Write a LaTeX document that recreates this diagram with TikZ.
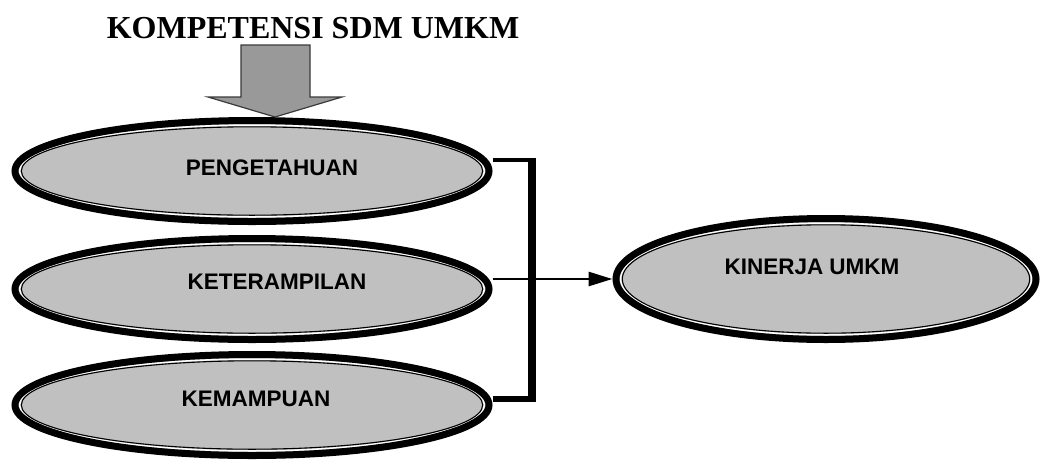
\documentclass[tikz,border=0pt]{standalone}
\usepackage{fontspec}
\setmainfont{Liberation Serif}
\newfontfamily\labelfont{Liberation Sans}
\usetikzlibrary{shapes.geometric,arrows.meta,backgrounds,calc}
\definecolor{ovalfill}{HTML}{C0C0C0}
\definecolor{arrowfill}{HTML}{999999}
\definecolor{arrowline}{HTML}{3A3A3A}

\tikzset{
  oval/.style={ellipse, draw=black, line width=7pt, fill=ovalfill, inner sep=0pt,
    path picture={
      \draw[white, line width=1.5pt]
        let \p1=(path picture bounding box.north east),
            \p2=(path picture bounding box.center) in
        (\p2) ellipse [x radius={\x1-\x2-4.6pt}, y radius={\y1-\y2-4.6pt}];
      \draw[black, line width=1.1pt]
        let \p1=(path picture bounding box.north east),
            \p2=(path picture bounding box.center) in
        (\p2) ellipse [x radius={\x1-\x2-6.3pt}, y radius={\y1-\y2-6.3pt}];
    }},
  smalloval/.style={oval, minimum width=474pt, minimum height=101pt},
  lbl/.style={font=\labelfont\bfseries\fontsize{22.5}{27}\selectfont},
  heading/.style={font=\bfseries\fontsize{32}{38}\selectfont, anchor=base},
  blockarrow/.style={fill=arrowfill, draw=arrowline, line width=1.2pt, line join=miter},
}

\begin{document}
\begin{tikzpicture}[x=1pt, y=-1pt]
  \useasboundingbox (0,0) rectangle (1042,459);

  % heading
  \node[heading] (title) at (313,38) {KOMPETENSI SDM UMKM};

  % competence ovals
  \node[smalloval, label={[lbl, xshift=20pt, yshift=3pt]center:PENGETAHUAN}] (peng) at (252,171) {};
  \node[smalloval, label={[lbl, xshift=25pt, yshift=7pt]center:KETERAMPILAN}] (ket) at (252,289) {};
  \node[smalloval, label={[lbl, xshift=4pt, yshift=6pt]center:KEMAMPUAN}] (kemp) at (252,405) {};

  % performance oval
  \node[oval, minimum width=420pt, minimum height=121pt,
        label={[lbl, xshift=-14pt, yshift=12pt]center:KINERJA UMKM}] (kin) at (826,279) {};

  % block arrow into the first oval
  \coordinate (tip) at (275,117);
  \filldraw[blockarrow] (241,45) -- (310,45) -- (310,97) -- (342,97) -- (tip)
    -- (208,97) -- (241,97) -- cycle;

  % bracket and arrow
  \coordinate (j1) at (532,160);
  \coordinate (j3) at (532,399);
  \begin{scope}[on background layer]
    \draw[line width=4pt] (peng.east |- j1) -- (j1);
    \draw[line width=6pt] (kemp.east |- j3) -- (j3);
    \draw[line width=8pt] ([yshift=2pt]j1) -- ([yshift=-3pt]j3);
    \draw[line width=2.8pt, -{Triangle[length=24pt,width=14pt]}]
      (ket.east |- kin.west) -- (kin.west);
  \end{scope}
\end{tikzpicture}
\end{document}
